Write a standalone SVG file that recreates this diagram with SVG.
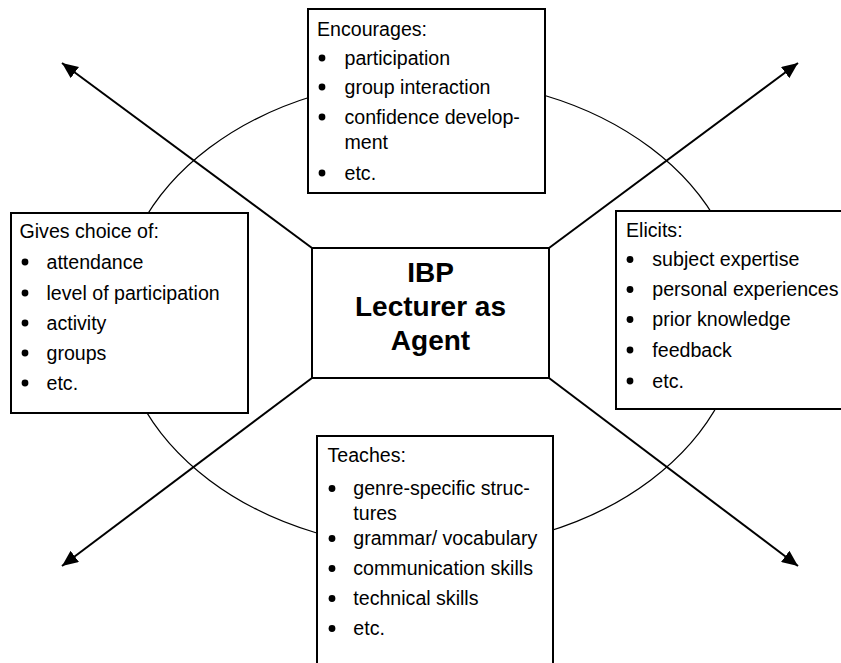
<svg xmlns="http://www.w3.org/2000/svg" width="841" height="663" viewBox="0 0 841 663">
<defs>
<marker id="ah" markerUnits="userSpaceOnUse" markerWidth="18" markerHeight="14" refX="16" refY="7" orient="auto">
<path d="M0,0 L16,7 L0,14 Z" fill="#000"/>
</marker>
<style>
.box{fill:#fff;stroke:#000;stroke-width:2}
.t{font-family:"Liberation Sans",Arial,sans-serif;font-size:19.6px;fill:#000}
.c{font-family:"Liberation Sans",Arial,sans-serif;font-size:28px;font-weight:bold;fill:#000;text-anchor:middle}
.conn{stroke:#000;stroke-width:2;fill:none}
</style>
</defs>
<rect width="841" height="663" fill="#fff"/>
<ellipse id="ring" cx="430" cy="314" rx="312" ry="235" fill="none" stroke="#000" stroke-width="1.3"/>
<g id="connectors">
<line class="conn" x1="312" y1="248" x2="62" y2="63" marker-end="url(#ah)"/>
<line class="conn" x1="549" y1="248" x2="798" y2="63" marker-end="url(#ah)"/>
<line class="conn" x1="312" y1="378" x2="62" y2="566" marker-end="url(#ah)"/>
<line class="conn" x1="549" y1="378" x2="798" y2="566" marker-end="url(#ah)"/>
</g>
<g id="center">
<rect class="box" x="312" y="248" width="237" height="130"/>
<text class="c" x="430.5" y="282">IBP</text>
<text class="c" x="430.5" y="316">Lecturer as</text>
<text class="c" x="430.5" y="350">Agent</text>
</g>
<g id="encourages">
<rect class="box" x="308" y="9" width="237" height="184"/>
<text class="t" x="317" y="36">Encourages:</text>
<circle cx="322" cy="58" r="3.4"/><text class="t" x="344.5" y="64.5">participation</text>
<circle cx="322" cy="87" r="3.4"/><text class="t" x="344.5" y="93.5">group interaction</text>
<circle cx="322" cy="117" r="3.4"/><text class="t" x="344.5" y="123.5">confidence develop-</text>
<text class="t" x="344.5" y="149">ment</text>
<circle cx="322" cy="173" r="3.4"/><text class="t" x="344.5" y="179.5">etc.</text>
</g>
<g id="gives">
<rect class="box" x="11" y="213" width="237" height="200"/>
<text class="t" x="19.5" y="238">Gives choice of:</text>
<circle cx="25" cy="262" r="3.4"/><text class="t" x="46.5" y="268.5">attendance</text>
<circle cx="25" cy="293" r="3.4"/><text class="t" x="46.5" y="299.5">level of participation</text>
<circle cx="25" cy="323" r="3.4"/><text class="t" x="46.5" y="329.5">activity</text>
<circle cx="25" cy="353" r="3.4"/><text class="t" x="46.5" y="359.5">groups</text>
<circle cx="25" cy="383" r="3.4"/><text class="t" x="46.5" y="389.5">etc.</text>
</g>
<g id="elicits">
<rect class="box" x="616" y="211" width="240" height="198"/>
<text class="t" x="626" y="237">Elicits:</text>
<circle cx="630" cy="259.5" r="3.4"/><text class="t" x="652.3" y="266">subject expertise</text>
<circle cx="630" cy="289.5" r="3.4"/><text class="t" x="652.3" y="296">personal experiences</text>
<circle cx="630" cy="319.5" r="3.4"/><text class="t" x="652.3" y="326">prior knowledge</text>
<circle cx="630" cy="350" r="3.4"/><text class="t" x="652.3" y="356.5">feedback</text>
<circle cx="630" cy="381" r="3.4"/><text class="t" x="652.3" y="387.5">etc.</text>
</g>
<g id="teaches">
<rect class="box" x="317" y="436" width="236" height="250"/>
<text class="t" x="327.5" y="462">Teaches:</text>
<circle cx="332" cy="488.5" r="3.4"/><text class="t" x="353.3" y="495">genre-specific struc-</text>
<text class="t" x="353.3" y="520">tures</text>
<circle cx="332" cy="538.5" r="3.4"/><text class="t" x="353.3" y="545">grammar/ vocabulary</text>
<circle cx="332" cy="568.5" r="3.4"/><text class="t" x="353.3" y="575">communication skills</text>
<circle cx="332" cy="598.5" r="3.4"/><text class="t" x="353.3" y="605">technical skills</text>
<circle cx="332" cy="628.5" r="3.4"/><text class="t" x="353.3" y="635">etc.</text>
</g>
</svg>
